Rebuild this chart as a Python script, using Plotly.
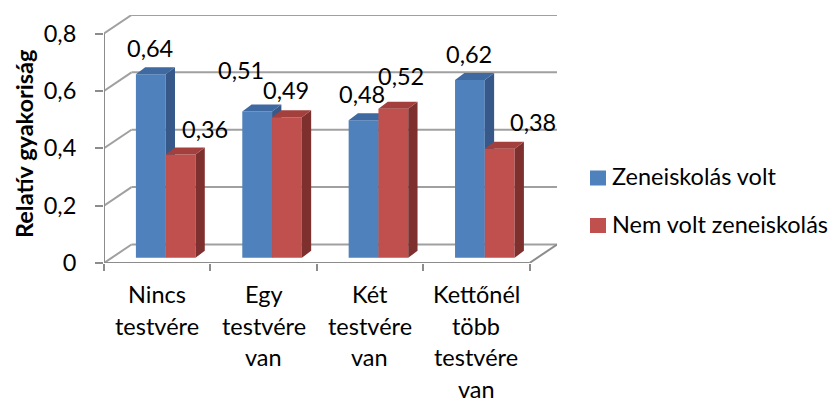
import plotly.graph_objects as go

# ---- data -------------------------------------------------------------
categories = [
    ["Nincs", "testvére"],
    ["Egy", "testvére", "van"],
    ["Két", "testvére", "van"],
    ["Kettőnél", "több", "testvére", "van"],
]
series_names = ["Zeneiskolás volt", "Nem volt zeneiskolás"]
zeneiskolas_volt = [0.64, 0.51, 0.48, 0.62]
nem_volt_zeneiskolas = [0.36, 0.49, 0.52, 0.38]
y_ticks = [0, 0.2, 0.4, 0.6, 0.8]
y_tick_labels = ["0", "0,2", "0,4", "0,6", "0,8"]
y_title = "Relatív gyakoriság"

# ---- style / layout ---------------------------------------------------
W, H = 840, 403
L, R, T, B = 104, 283, 15, 140
FONT = "Lato"
FS = 23.5

front = ["#4F81BD", "#C0504D"]
top_c = ["#3F6AA1", "#A3403D"]
side_c = ["#36598A", "#7E302E"]
grid_c = "#A0A0A0"
axis_c = "#8C8C8C"

n = len(categories)
DX = 0.2585            # wall depth in category units
DY = 0.0646            # wall depth in value units
X0, X1 = -0.5, n - 0.5
XR = [X0, X1 + DX]
YR = [0, y_ticks[-1] + DY]

BAR_W = 0.28           # width of one column
GROUP_SHIFT = 0.08     # columns sit part-way into the floor
B0 = 0.018             # base of the columns (value units)
BDX, BDY = 0.0874, 0.0245   # column depth

# label offsets in px (x, y) for each series
label_shift = [
    [(-1, 26), (-16, 42), (-2, 26), (-1, 26)],
    [(24, 26), (-1, 27), (8, 33), (33, 27)],
]

plot_w = W - L - R
plot_h = H - T - B


def px(xp):
    return (xp - L) / plot_w


def py(yp):
    return (H - B - yp) / plot_h


def fmt(v):
    return f"{v:.2f}".replace(".", ",")


fig = go.Figure()

series = [zeneiskolas_volt, nem_volt_zeneiskolas]
axes = [("x", "y"), ("x2", "y2")]
for s, vals in enumerate(series):
    xa, ya = axes[s]
    centers = [i + GROUP_SHIFT + (s - 0.5) * BAR_W for i in range(n)]
    fig.add_trace(go.Bar(
        x=centers, y=vals, base=[B0] * n, width=[BAR_W] * n,
        marker=dict(color=front[s], line=dict(width=0)),
        name=series_names[s], showlegend=False, hoverinfo="skip",
        xaxis=xa, yaxis=ya,
    ))
    # right-hand side faces
    sx, sy = [], []
    # top faces
    tx, ty = [], []
    for c, v in zip(centers, vals):
        xl, xr = c - BAR_W / 2, c + BAR_W / 2
        top = B0 + v
        sx += [xr, xr + BDX, xr + BDX, xr, xr, None]
        sy += [B0, B0 + BDY, top + BDY, top, B0, None]
        tx += [xl, xl + BDX, xr + BDX, xr, xl, None]
        ty += [top, top + BDY, top + BDY, top, top, None]
    fig.add_trace(go.Scatter(
        x=sx, y=sy, mode="lines", fill="toself", fillcolor=side_c[s],
        line=dict(width=0), showlegend=False, hoverinfo="skip",
        xaxis=xa, yaxis=ya,
    ))
    fig.add_trace(go.Scatter(
        x=tx, y=ty, mode="lines", fill="toself", fillcolor=top_c[s],
        line=dict(width=0), showlegend=False, hoverinfo="skip",
        xaxis=xa, yaxis=ya,
    ))
    # value labels
    for i, (c, v) in enumerate(zip(centers, vals)):
        dxs, dys = label_shift[s][i]
        fig.add_annotation(
            x=c, y=B0 + v, xref="x", yref="y", text=fmt(v), showarrow=False,
            xshift=dxs, yshift=dys, xanchor="center", yanchor="middle",
            font=dict(family=FONT, size=FS, color="black"),
        )

# back wall gridlines and left wall diagonals
for v in y_ticks:
    fig.add_shape(type="line", xref="x", yref="y", layer="below",
                  x0=X0 + DX, y0=v + DY, x1=X1 + DX, y1=v + DY,
                  line=dict(color=grid_c, width=2))
    fig.add_shape(type="line", xref="x", yref="y", layer="below",
                  x0=X0, y0=v, x1=X0 + DX, y1=v + DY,
                  line=dict(color=grid_c, width=2))
# floor front edge and right edge
fig.add_shape(type="line", xref="x", yref="y", layer="below",
              x0=X0, y0=0, x1=X1, y1=0, line=dict(color=axis_c, width=2))
fig.add_shape(type="line", xref="x", yref="y", layer="below",
              x0=X1, y0=0, x1=X1 + DX, y1=DY, line=dict(color=axis_c, width=2))
# value axis line
fig.add_shape(type="line", xref="x", yref="y", layer="below",
              x0=X0, y0=0, x1=X0, y1=y_ticks[-1], line=dict(color=axis_c, width=2))

# category labels, one line at a time
LINE_GAP = 31.5
for i, lines in enumerate(categories):
    for k, t in enumerate(lines):
        fig.add_annotation(
            x=i, y=0, xref="x", yref="y", text=t, showarrow=False,
            xanchor="center", yanchor="middle", yshift=-(31 + k * LINE_GAP),
            font=dict(family=FONT, size=FS, color="black"),
        )

# axis title
fig.add_annotation(
    x=px(24), y=py(144), xref="paper", yref="paper", text=f"<b>{y_title}</b>",
    textangle=-90, showarrow=False, xanchor="center", yanchor="middle",
    font=dict(family=FONT, size=FS, color="black"),
)

# legend
for s, name in enumerate(series_names):
    cy = 178 + s * 47.5
    fig.add_shape(type="rect", xref="paper", yref="paper",
                  x0=px(590), x1=px(606), y0=py(cy - 7.5), y1=py(cy + 7.5),
                  fillcolor=front[s], line=dict(width=0))
    fig.add_annotation(
        x=px(610), y=py(cy - 2), xref="paper", yref="paper", text=name,
        showarrow=False, xanchor="left", yanchor="middle",
        font=dict(family=FONT, size=FS, color="black"),
    )

fig.update_layout(
    width=W, height=H,
    margin=dict(l=L, r=R, t=T, b=B),
    paper_bgcolor="white", plot_bgcolor="rgba(0,0,0,0)",
    font=dict(family=FONT, size=FS, color="black"),
    barmode="overlay", showlegend=False,
    xaxis=dict(range=XR, tickvals=[i - 0.5 for i in range(n + 1)],
               ticktext=[""] * (n + 1), ticks="outside", ticklen=7,
               tickwidth=2, tickcolor=axis_c, showgrid=False, zeroline=False,
               showline=False, fixedrange=True),
    xaxis2=dict(range=XR, overlaying="x", visible=False),
    yaxis=dict(range=YR, tickvals=y_ticks, ticktext=y_tick_labels,
               ticks="outside", ticklen=8, tickwidth=2, tickcolor=axis_c,
               showgrid=False, zeroline=False, showline=False,
               ticklabelstandoff=14,
               tickfont=dict(family=FONT, size=FS, color="black")),
    yaxis2=dict(range=YR, overlaying="y", visible=False),
)

fig.write_html("out.html")
